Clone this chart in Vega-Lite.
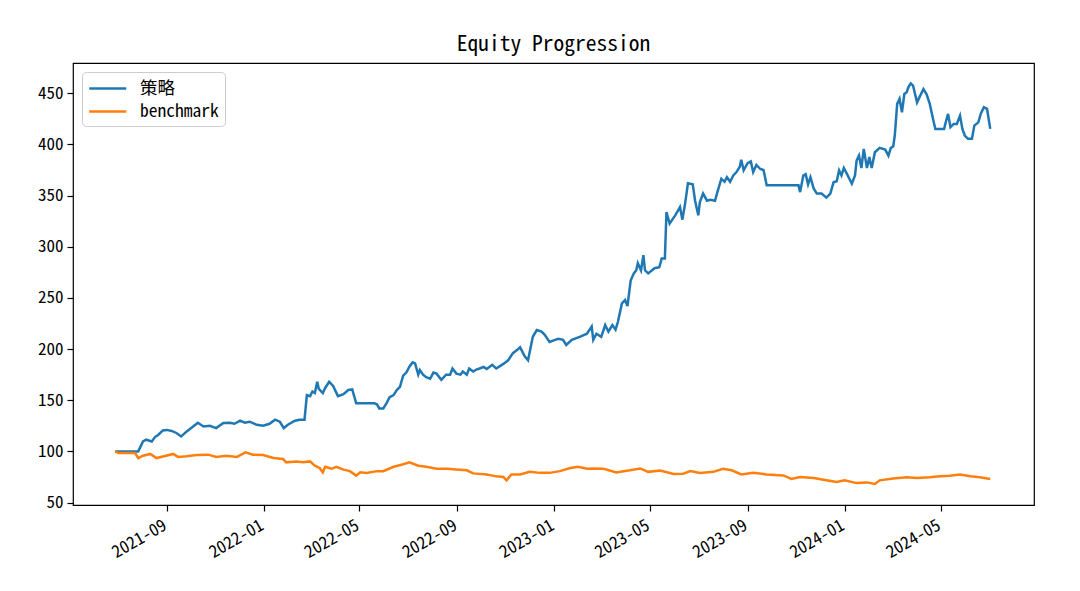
{
  "$schema": "https://vega.github.io/schema/vega-lite/v6.json",
  "width": 961,
  "height": 442,
  "autosize": {"type": "none"},
  "padding": {"left": 73, "top": 63, "right": 46, "bottom": 86},
  "background": "white",
  "config": {
    "font": "'Noto Sans Mono CJK SC', 'DejaVu Sans Mono', 'Noto Sans CJK SC'",
    "view": {"stroke": "#000000", "strokeWidth": 1.2},
    "axis": {
      "domain": false,
      "grid": false,
      "tickColor": "#000000",
      "tickSize": 6,
      "tickWidth": 1.2,
      "labelColor": "#000000",
      "labelFontSize": 17,
      "labelPadding": 4,
      "title": null
    }
  },
  "title": {
    "text": "Equity Progression",
    "fontSize": 21.5,
    "fontWeight": "normal",
    "color": "#000000",
    "anchor": "middle",
    "offset": 8
  },
  "data": {
    "values": [
      {"date": "2021-06-28T00:00", "series": "策略", "value": 100},
      {"date": "2021-07-27T00:00", "series": "策略", "value": 100},
      {"date": "2021-08-02T00:00", "series": "策略", "value": 109.7},
      {"date": "2021-08-06T00:00", "series": "策略", "value": 111.4},
      {"date": "2021-08-13T00:00", "series": "策略", "value": 109.7},
      {"date": "2021-08-17T00:00", "series": "策略", "value": 114},
      {"date": "2021-08-21T00:00", "series": "策略", "value": 116},
      {"date": "2021-08-27T00:00", "series": "策略", "value": 120.5},
      {"date": "2021-09-01T00:00", "series": "策略", "value": 121},
      {"date": "2021-09-07T00:00", "series": "策略", "value": 120},
      {"date": "2021-09-13T00:00", "series": "策略", "value": 118},
      {"date": "2021-09-19T00:00", "series": "策略", "value": 114.6},
      {"date": "2021-09-26T00:00", "series": "策略", "value": 119.5},
      {"date": "2021-10-04T00:00", "series": "策略", "value": 124.4},
      {"date": "2021-10-10T00:00", "series": "策略", "value": 128},
      {"date": "2021-10-17T00:00", "series": "策略", "value": 124.4},
      {"date": "2021-10-25T00:00", "series": "策略", "value": 125},
      {"date": "2021-11-02T00:00", "series": "策略", "value": 122.8},
      {"date": "2021-11-11T00:00", "series": "策略", "value": 127.7},
      {"date": "2021-11-19T00:00", "series": "策略", "value": 128},
      {"date": "2021-11-25T00:00", "series": "策略", "value": 127},
      {"date": "2021-12-02T00:00", "series": "策略", "value": 130},
      {"date": "2021-12-08T00:00", "series": "策略", "value": 128},
      {"date": "2021-12-14T00:00", "series": "策略", "value": 129},
      {"date": "2021-12-23T00:00", "series": "策略", "value": 126},
      {"date": "2021-12-31T00:00", "series": "策略", "value": 125},
      {"date": "2022-01-08T00:00", "series": "策略", "value": 127},
      {"date": "2022-01-15T00:00", "series": "策略", "value": 131},
      {"date": "2022-01-21T00:00", "series": "策略", "value": 129},
      {"date": "2022-01-26T00:00", "series": "策略", "value": 122.8},
      {"date": "2022-01-31T00:00", "series": "策略", "value": 126},
      {"date": "2022-02-09T00:00", "series": "策略", "value": 130},
      {"date": "2022-02-15T00:00", "series": "策略", "value": 131},
      {"date": "2022-02-21T00:00", "series": "策略", "value": 131},
      {"date": "2022-02-24T00:00", "series": "策略", "value": 155},
      {"date": "2022-02-28T00:00", "series": "策略", "value": 154},
      {"date": "2022-03-03T00:00", "series": "策略", "value": 158.5},
      {"date": "2022-03-06T00:00", "series": "策略", "value": 157},
      {"date": "2022-03-09T00:00", "series": "策略", "value": 168},
      {"date": "2022-03-11T00:00", "series": "策略", "value": 161},
      {"date": "2022-03-16T00:00", "series": "策略", "value": 157},
      {"date": "2022-03-19T00:00", "series": "策略", "value": 162},
      {"date": "2022-03-24T00:00", "series": "策略", "value": 168},
      {"date": "2022-03-29T00:00", "series": "策略", "value": 164},
      {"date": "2022-04-04T00:00", "series": "策略", "value": 154},
      {"date": "2022-04-11T00:00", "series": "策略", "value": 156},
      {"date": "2022-04-17T00:00", "series": "策略", "value": 160},
      {"date": "2022-04-22T00:00", "series": "策略", "value": 160.5},
      {"date": "2022-04-27T00:00", "series": "策略", "value": 147},
      {"date": "2022-05-20T00:00", "series": "策略", "value": 147},
      {"date": "2022-05-23T00:00", "series": "策略", "value": 146},
      {"date": "2022-05-26T00:00", "series": "策略", "value": 142},
      {"date": "2022-05-31T00:00", "series": "策略", "value": 142},
      {"date": "2022-06-04T00:00", "series": "策略", "value": 147},
      {"date": "2022-06-08T00:00", "series": "策略", "value": 153},
      {"date": "2022-06-13T00:00", "series": "策略", "value": 155},
      {"date": "2022-06-17T00:00", "series": "策略", "value": 160},
      {"date": "2022-06-21T00:00", "series": "策略", "value": 163},
      {"date": "2022-06-25T00:00", "series": "策略", "value": 174},
      {"date": "2022-06-29T00:00", "series": "策略", "value": 177},
      {"date": "2022-07-03T00:00", "series": "策略", "value": 183},
      {"date": "2022-07-07T00:00", "series": "策略", "value": 187},
      {"date": "2022-07-10T00:00", "series": "策略", "value": 186},
      {"date": "2022-07-14T00:00", "series": "策略", "value": 175},
      {"date": "2022-07-16T00:00", "series": "策略", "value": 179.6},
      {"date": "2022-07-20T00:00", "series": "策略", "value": 175},
      {"date": "2022-07-24T00:00", "series": "策略", "value": 172.5},
      {"date": "2022-07-29T00:00", "series": "策略", "value": 171},
      {"date": "2022-08-02T00:00", "series": "策略", "value": 177},
      {"date": "2022-08-06T00:00", "series": "策略", "value": 176},
      {"date": "2022-08-12T00:00", "series": "策略", "value": 170},
      {"date": "2022-08-18T00:00", "series": "策略", "value": 175},
      {"date": "2022-08-23T00:00", "series": "策略", "value": 175},
      {"date": "2022-08-26T00:00", "series": "策略", "value": 181},
      {"date": "2022-08-31T00:00", "series": "策略", "value": 176},
      {"date": "2022-09-05T00:00", "series": "策略", "value": 175},
      {"date": "2022-09-08T00:00", "series": "策略", "value": 178},
      {"date": "2022-09-13T00:00", "series": "策略", "value": 175},
      {"date": "2022-09-16T00:00", "series": "策略", "value": 181},
      {"date": "2022-09-21T00:00", "series": "策略", "value": 178},
      {"date": "2022-09-25T00:00", "series": "策略", "value": 180},
      {"date": "2022-09-29T00:00", "series": "策略", "value": 181},
      {"date": "2022-10-04T00:00", "series": "策略", "value": 182.5},
      {"date": "2022-10-08T00:00", "series": "策略", "value": 180.6},
      {"date": "2022-10-15T00:00", "series": "策略", "value": 184.6},
      {"date": "2022-10-20T00:00", "series": "策略", "value": 181},
      {"date": "2022-10-29T00:00", "series": "策略", "value": 185.5},
      {"date": "2022-11-04T00:00", "series": "策略", "value": 189},
      {"date": "2022-11-10T00:00", "series": "策略", "value": 196},
      {"date": "2022-11-15T00:00", "series": "策略", "value": 199},
      {"date": "2022-11-19T00:00", "series": "策略", "value": 201.7},
      {"date": "2022-11-25T00:00", "series": "策略", "value": 192.6},
      {"date": "2022-11-29T00:00", "series": "策略", "value": 189},
      {"date": "2022-12-05T00:00", "series": "策略", "value": 212},
      {"date": "2022-12-10T00:00", "series": "策略", "value": 218.6},
      {"date": "2022-12-16T00:00", "series": "策略", "value": 217},
      {"date": "2022-12-20T00:00", "series": "策略", "value": 214},
      {"date": "2022-12-26T00:00", "series": "策略", "value": 207},
      {"date": "2023-01-02T00:00", "series": "策略", "value": 209},
      {"date": "2023-01-06T00:00", "series": "策略", "value": 210},
      {"date": "2023-01-12T00:00", "series": "策略", "value": 209},
      {"date": "2023-01-16T00:00", "series": "策略", "value": 204},
      {"date": "2023-01-23T00:00", "series": "策略", "value": 209},
      {"date": "2023-02-02T00:00", "series": "策略", "value": 212},
      {"date": "2023-02-11T00:00", "series": "策略", "value": 215},
      {"date": "2023-02-17T00:00", "series": "策略", "value": 222},
      {"date": "2023-02-19T00:00", "series": "策略", "value": 209},
      {"date": "2023-02-23T00:00", "series": "策略", "value": 215},
      {"date": "2023-03-01T00:00", "series": "策略", "value": 212},
      {"date": "2023-03-06T00:00", "series": "策略", "value": 223.5},
      {"date": "2023-03-10T00:00", "series": "策略", "value": 217},
      {"date": "2023-03-15T00:00", "series": "策略", "value": 223.5},
      {"date": "2023-03-19T00:00", "series": "策略", "value": 219},
      {"date": "2023-03-22T00:00", "series": "策略", "value": 226.7},
      {"date": "2023-03-27T00:00", "series": "策略", "value": 244.6},
      {"date": "2023-03-31T00:00", "series": "策略", "value": 248},
      {"date": "2023-04-03T00:00", "series": "策略", "value": 242},
      {"date": "2023-04-07T00:00", "series": "策略", "value": 267},
      {"date": "2023-04-11T00:00", "series": "策略", "value": 274},
      {"date": "2023-04-14T00:00", "series": "策略", "value": 277},
      {"date": "2023-04-16T00:00", "series": "策略", "value": 284},
      {"date": "2023-04-20T00:00", "series": "策略", "value": 277},
      {"date": "2023-04-23T00:00", "series": "策略", "value": 291.7},
      {"date": "2023-04-25T00:00", "series": "策略", "value": 277},
      {"date": "2023-04-29T00:00", "series": "策略", "value": 274},
      {"date": "2023-05-07T00:00", "series": "策略", "value": 279},
      {"date": "2023-05-13T00:00", "series": "策略", "value": 280},
      {"date": "2023-05-16T00:00", "series": "策略", "value": 288.5},
      {"date": "2023-05-20T00:00", "series": "策略", "value": 288.5},
      {"date": "2023-05-22T00:00", "series": "策略", "value": 334},
      {"date": "2023-05-26T00:00", "series": "策略", "value": 322.6},
      {"date": "2023-06-02T00:00", "series": "策略", "value": 330.7},
      {"date": "2023-06-08T00:00", "series": "策略", "value": 338.8},
      {"date": "2023-06-11T00:00", "series": "策略", "value": 326.5},
      {"date": "2023-06-14T00:00", "series": "策略", "value": 340},
      {"date": "2023-06-18T00:00", "series": "策略", "value": 362},
      {"date": "2023-06-24T00:00", "series": "策略", "value": 361},
      {"date": "2023-06-27T00:00", "series": "策略", "value": 345},
      {"date": "2023-07-01T00:00", "series": "策略", "value": 330.7},
      {"date": "2023-07-03T00:00", "series": "策略", "value": 343.7},
      {"date": "2023-07-07T00:00", "series": "策略", "value": 352},
      {"date": "2023-07-12T00:00", "series": "策略", "value": 345},
      {"date": "2023-07-16T00:00", "series": "策略", "value": 346},
      {"date": "2023-07-22T00:00", "series": "策略", "value": 345},
      {"date": "2023-07-25T00:00", "series": "策略", "value": 353.4},
      {"date": "2023-07-30T00:00", "series": "策略", "value": 366.5},
      {"date": "2023-08-03T00:00", "series": "策略", "value": 363.5},
      {"date": "2023-08-06T00:00", "series": "策略", "value": 368},
      {"date": "2023-08-10T00:00", "series": "策略", "value": 363.5},
      {"date": "2023-08-14T00:00", "series": "策略", "value": 369.7},
      {"date": "2023-08-18T00:00", "series": "策略", "value": 373},
      {"date": "2023-08-22T00:00", "series": "策略", "value": 378},
      {"date": "2023-08-24T00:00", "series": "策略", "value": 385},
      {"date": "2023-08-27T00:00", "series": "策略", "value": 374.7},
      {"date": "2023-09-01T00:00", "series": "策略", "value": 381.7},
      {"date": "2023-09-05T00:00", "series": "策略", "value": 383.4},
      {"date": "2023-09-08T00:00", "series": "策略", "value": 373},
      {"date": "2023-09-12T00:00", "series": "策略", "value": 380},
      {"date": "2023-09-17T00:00", "series": "策略", "value": 376},
      {"date": "2023-09-21T00:00", "series": "策略", "value": 375},
      {"date": "2023-09-25T00:00", "series": "策略", "value": 360},
      {"date": "2023-11-04T00:00", "series": "策略", "value": 360},
      {"date": "2023-11-06T00:00", "series": "策略", "value": 353.4},
      {"date": "2023-11-10T00:00", "series": "策略", "value": 369.7},
      {"date": "2023-11-13T00:00", "series": "策略", "value": 371},
      {"date": "2023-11-16T00:00", "series": "策略", "value": 361},
      {"date": "2023-11-19T00:00", "series": "策略", "value": 368},
      {"date": "2023-11-23T00:00", "series": "策略", "value": 357},
      {"date": "2023-11-27T00:00", "series": "策略", "value": 352},
      {"date": "2023-12-03T00:00", "series": "策略", "value": 352},
      {"date": "2023-12-09T00:00", "series": "策略", "value": 348},
      {"date": "2023-12-14T00:00", "series": "策略", "value": 352},
      {"date": "2023-12-18T00:00", "series": "策略", "value": 363},
      {"date": "2023-12-22T00:00", "series": "策略", "value": 364},
      {"date": "2023-12-25T00:00", "series": "策略", "value": 374.6},
      {"date": "2023-12-28T00:00", "series": "策略", "value": 369.7},
      {"date": "2023-12-31T00:00", "series": "策略", "value": 377},
      {"date": "2024-01-04T00:00", "series": "策略", "value": 371},
      {"date": "2024-01-10T00:00", "series": "策略", "value": 361.6},
      {"date": "2024-01-14T00:00", "series": "策略", "value": 369.7},
      {"date": "2024-01-16T00:00", "series": "策略", "value": 384.3},
      {"date": "2024-01-19T00:00", "series": "策略", "value": 389.2},
      {"date": "2024-01-22T00:00", "series": "策略", "value": 377},
      {"date": "2024-01-25T00:00", "series": "策略", "value": 395.7},
      {"date": "2024-01-29T00:00", "series": "策略", "value": 377},
      {"date": "2024-02-01T00:00", "series": "策略", "value": 387.6},
      {"date": "2024-02-04T00:00", "series": "策略", "value": 377},
      {"date": "2024-02-08T00:00", "series": "策略", "value": 392.4},
      {"date": "2024-02-14T00:00", "series": "策略", "value": 396.7},
      {"date": "2024-02-21T00:00", "series": "策略", "value": 395},
      {"date": "2024-02-25T00:00", "series": "策略", "value": 389},
      {"date": "2024-02-28T00:00", "series": "策略", "value": 396.7},
      {"date": "2024-03-02T00:00", "series": "策略", "value": 398},
      {"date": "2024-03-04T00:00", "series": "策略", "value": 408.7},
      {"date": "2024-03-07T00:00", "series": "策略", "value": 439.6},
      {"date": "2024-03-10T00:00", "series": "策略", "value": 444.5},
      {"date": "2024-03-13T00:00", "series": "策略", "value": 431.4},
      {"date": "2024-03-16T00:00", "series": "策略", "value": 449.3},
      {"date": "2024-03-19T00:00", "series": "策略", "value": 451},
      {"date": "2024-03-21T00:00", "series": "策略", "value": 455.8},
      {"date": "2024-03-24T00:00", "series": "策略", "value": 459.7},
      {"date": "2024-03-27T00:00", "series": "策略", "value": 457.5},
      {"date": "2024-04-01T00:00", "series": "策略", "value": 441},
      {"date": "2024-04-05T00:00", "series": "策略", "value": 447.7},
      {"date": "2024-04-09T00:00", "series": "策略", "value": 454},
      {"date": "2024-04-13T00:00", "series": "策略", "value": 449},
      {"date": "2024-04-17T00:00", "series": "策略", "value": 439.6},
      {"date": "2024-04-21T00:00", "series": "策略", "value": 425},
      {"date": "2024-04-24T00:00", "series": "策略", "value": 415},
      {"date": "2024-05-05T00:00", "series": "策略", "value": 415},
      {"date": "2024-05-07T00:00", "series": "策略", "value": 421.6},
      {"date": "2024-05-10T00:00", "series": "策略", "value": 429.8},
      {"date": "2024-05-13T00:00", "series": "策略", "value": 416.8},
      {"date": "2024-05-17T00:00", "series": "策略", "value": 420},
      {"date": "2024-05-21T00:00", "series": "策略", "value": 420},
      {"date": "2024-05-25T00:00", "series": "策略", "value": 428.2},
      {"date": "2024-05-28T00:00", "series": "策略", "value": 415.2},
      {"date": "2024-05-31T00:00", "series": "策略", "value": 408.7},
      {"date": "2024-06-04T00:00", "series": "策略", "value": 405.5},
      {"date": "2024-06-09T00:00", "series": "策略", "value": 405.5},
      {"date": "2024-06-12T00:00", "series": "策略", "value": 418.4},
      {"date": "2024-06-17T00:00", "series": "策略", "value": 421.6},
      {"date": "2024-06-20T00:00", "series": "策略", "value": 429.8},
      {"date": "2024-06-24T00:00", "series": "策略", "value": 436.3},
      {"date": "2024-06-28T00:00", "series": "策略", "value": 434.7},
      {"date": "2024-07-02T00:00", "series": "策略", "value": 415.2},

      {"date": "2021-06-28T00:00", "series": "benchmark", "value": 100},
      {"date": "2021-07-02T00:00", "series": "benchmark", "value": 98.4},
      {"date": "2021-07-23T00:00", "series": "benchmark", "value": 98.4},
      {"date": "2021-07-27T00:00", "series": "benchmark", "value": 93.5},
      {"date": "2021-08-02T00:00", "series": "benchmark", "value": 95.8},
      {"date": "2021-08-11T00:00", "series": "benchmark", "value": 97.5},
      {"date": "2021-08-19T00:00", "series": "benchmark", "value": 93.5},
      {"date": "2021-08-27T00:00", "series": "benchmark", "value": 95},
      {"date": "2021-09-09T00:00", "series": "benchmark", "value": 97.5},
      {"date": "2021-09-15T00:00", "series": "benchmark", "value": 94.6},
      {"date": "2021-09-26T00:00", "series": "benchmark", "value": 95.2},
      {"date": "2021-10-08T00:00", "series": "benchmark", "value": 96.5},
      {"date": "2021-10-23T00:00", "series": "benchmark", "value": 96.8},
      {"date": "2021-11-02T00:00", "series": "benchmark", "value": 94.6},
      {"date": "2021-11-15T00:00", "series": "benchmark", "value": 95.8},
      {"date": "2021-11-28T00:00", "series": "benchmark", "value": 94.6},
      {"date": "2021-12-09T00:00", "series": "benchmark", "value": 99},
      {"date": "2021-12-18T00:00", "series": "benchmark", "value": 96.8},
      {"date": "2021-12-31T00:00", "series": "benchmark", "value": 96.5},
      {"date": "2022-01-13T00:00", "series": "benchmark", "value": 93.5},
      {"date": "2022-01-25T00:00", "series": "benchmark", "value": 92.5},
      {"date": "2022-01-29T00:00", "series": "benchmark", "value": 89.3},
      {"date": "2022-02-11T00:00", "series": "benchmark", "value": 90.2},
      {"date": "2022-02-19T00:00", "series": "benchmark", "value": 89.3},
      {"date": "2022-02-28T00:00", "series": "benchmark", "value": 90.2},
      {"date": "2022-03-06T00:00", "series": "benchmark", "value": 86},
      {"date": "2022-03-12T00:00", "series": "benchmark", "value": 83.8},
      {"date": "2022-03-16T00:00", "series": "benchmark", "value": 79.5},
      {"date": "2022-03-19T00:00", "series": "benchmark", "value": 85},
      {"date": "2022-03-27T00:00", "series": "benchmark", "value": 83},
      {"date": "2022-04-02T00:00", "series": "benchmark", "value": 85},
      {"date": "2022-04-11T00:00", "series": "benchmark", "value": 82.2},
      {"date": "2022-04-19T00:00", "series": "benchmark", "value": 80.7},
      {"date": "2022-04-27T00:00", "series": "benchmark", "value": 76.3},
      {"date": "2022-05-02T00:00", "series": "benchmark", "value": 79.5},
      {"date": "2022-05-10T00:00", "series": "benchmark", "value": 78.8},
      {"date": "2022-05-23T00:00", "series": "benchmark", "value": 80.7},
      {"date": "2022-05-31T00:00", "series": "benchmark", "value": 80.7},
      {"date": "2022-06-13T00:00", "series": "benchmark", "value": 85},
      {"date": "2022-06-23T00:00", "series": "benchmark", "value": 87},
      {"date": "2022-07-03T00:00", "series": "benchmark", "value": 89.3},
      {"date": "2022-07-14T00:00", "series": "benchmark", "value": 86},
      {"date": "2022-07-24T00:00", "series": "benchmark", "value": 85},
      {"date": "2022-08-06T00:00", "series": "benchmark", "value": 83},
      {"date": "2022-08-19T00:00", "series": "benchmark", "value": 83},
      {"date": "2022-08-31T00:00", "series": "benchmark", "value": 82.2},
      {"date": "2022-09-13T00:00", "series": "benchmark", "value": 81.5},
      {"date": "2022-09-21T00:00", "series": "benchmark", "value": 78.5},
      {"date": "2022-10-08T00:00", "series": "benchmark", "value": 77.5},
      {"date": "2022-10-20T00:00", "series": "benchmark", "value": 75.6},
      {"date": "2022-10-29T00:00", "series": "benchmark", "value": 75},
      {"date": "2022-11-02T00:00", "series": "benchmark", "value": 71.7},
      {"date": "2022-11-08T00:00", "series": "benchmark", "value": 77.5},
      {"date": "2022-11-19T00:00", "series": "benchmark", "value": 77.5},
      {"date": "2022-12-01T00:00", "series": "benchmark", "value": 80},
      {"date": "2022-12-14T00:00", "series": "benchmark", "value": 79},
      {"date": "2022-12-26T00:00", "series": "benchmark", "value": 79},
      {"date": "2023-01-08T00:00", "series": "benchmark", "value": 80.7},
      {"date": "2023-01-21T00:00", "series": "benchmark", "value": 83.8},
      {"date": "2023-01-31T00:00", "series": "benchmark", "value": 85},
      {"date": "2023-02-11T00:00", "series": "benchmark", "value": 83},
      {"date": "2023-02-19T00:00", "series": "benchmark", "value": 83.3},
      {"date": "2023-03-04T00:00", "series": "benchmark", "value": 83},
      {"date": "2023-03-20T00:00", "series": "benchmark", "value": 79.5},
      {"date": "2023-04-06T00:00", "series": "benchmark", "value": 81.5},
      {"date": "2023-04-19T00:00", "series": "benchmark", "value": 83.3},
      {"date": "2023-04-29T00:00", "series": "benchmark", "value": 80},
      {"date": "2023-05-14T00:00", "series": "benchmark", "value": 81.2},
      {"date": "2023-05-31T00:00", "series": "benchmark", "value": 78},
      {"date": "2023-06-12T00:00", "series": "benchmark", "value": 78.2},
      {"date": "2023-06-21T00:00", "series": "benchmark", "value": 80.7},
      {"date": "2023-07-03T00:00", "series": "benchmark", "value": 79},
      {"date": "2023-07-20T00:00", "series": "benchmark", "value": 80},
      {"date": "2023-08-01T00:00", "series": "benchmark", "value": 83},
      {"date": "2023-08-12T00:00", "series": "benchmark", "value": 81.5},
      {"date": "2023-08-24T00:00", "series": "benchmark", "value": 77.5},
      {"date": "2023-09-08T00:00", "series": "benchmark", "value": 79},
      {"date": "2023-09-25T00:00", "series": "benchmark", "value": 77.5},
      {"date": "2023-10-16T00:00", "series": "benchmark", "value": 76.5},
      {"date": "2023-10-26T00:00", "series": "benchmark", "value": 73},
      {"date": "2023-11-06T00:00", "series": "benchmark", "value": 75},
      {"date": "2023-11-23T00:00", "series": "benchmark", "value": 74},
      {"date": "2023-12-09T00:00", "series": "benchmark", "value": 71.7},
      {"date": "2023-12-22T00:00", "series": "benchmark", "value": 70},
      {"date": "2024-01-01T00:00", "series": "benchmark", "value": 71.7},
      {"date": "2024-01-16T00:00", "series": "benchmark", "value": 69},
      {"date": "2024-01-29T00:00", "series": "benchmark", "value": 69.7},
      {"date": "2024-02-08T00:00", "series": "benchmark", "value": 68.2},
      {"date": "2024-02-14T00:00", "series": "benchmark", "value": 71.7},
      {"date": "2024-03-02T00:00", "series": "benchmark", "value": 73.4},
      {"date": "2024-03-19T00:00", "series": "benchmark", "value": 74.7},
      {"date": "2024-04-01T00:00", "series": "benchmark", "value": 74},
      {"date": "2024-04-17T00:00", "series": "benchmark", "value": 74.7},
      {"date": "2024-04-30T00:00", "series": "benchmark", "value": 75.6},
      {"date": "2024-05-12T00:00", "series": "benchmark", "value": 76.3},
      {"date": "2024-05-25T00:00", "series": "benchmark", "value": 77.3},
      {"date": "2024-06-07T00:00", "series": "benchmark", "value": 75.6},
      {"date": "2024-06-19T00:00", "series": "benchmark", "value": 74.7},
      {"date": "2024-07-02T00:00", "series": "benchmark", "value": 73}
    ]
  },
  "mark": {"type": "line", "strokeWidth": 2.5, "clip": true},
  "encoding": {
    "x": {
      "field": "date",
      "type": "temporal",
      "scale": {
        "domain": [
          {"year": 2021, "month": 5, "date": 6},
          {"year": 2024, "month": 8, "date": 26}
        ]
      },
      "axis": {
        "values": [
          {"year": 2021, "month": 9, "date": 1},
          {"year": 2022, "month": 1, "date": 1},
          {"year": 2022, "month": 5, "date": 1},
          {"year": 2022, "month": 9, "date": 1},
          {"year": 2023, "month": 1, "date": 1},
          {"year": 2023, "month": 5, "date": 1},
          {"year": 2023, "month": 9, "date": 1},
          {"year": 2024, "month": 1, "date": 1},
          {"year": 2024, "month": 5, "date": 1}
        ],
        "format": "%Y-%m",
        "labelAngle": -30,
        "labelAlign": "right",
        "labelBaseline": "top",
        "labelOffset": -6,
        "labelPadding": 6
      }
    },
    "y": {
      "field": "value",
      "type": "quantitative",
      "scale": {"domain": [47.6, 479.6], "nice": false, "zero": false},
      "axis": {"values": [50, 100, 150, 200, 250, 300, 350, 400, 450]}
    },
    "color": {
      "field": "series",
      "type": "nominal",
      "scale": {"domain": ["策略", "benchmark"], "range": ["#1f77b4", "#ff7f0e"]},
      "legend": {
        "title": null,
        "orient": "none",
        "legendX": 9,
        "legendY": 9,
        "symbolType": "M-1,0H3",
        "symbolSize": 342,
        "symbolStrokeWidth": 2.5,
        "labelFontSize": 17.5,
        "labelColor": "#000000",
        "labelOffset": 31,
        "rowPadding": 4,
        "padding": 6,
        "strokeColor": "#cccccc",
        "fillColor": "#ffffff",
        "cornerRadius": 4
      }
    }
  }
}
